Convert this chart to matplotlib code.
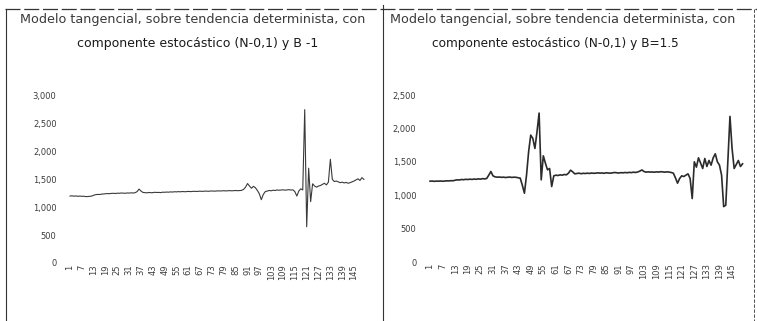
import numpy as np
import matplotlib
matplotlib.use("Agg")
import matplotlib.pyplot as plt
from matplotlib.lines import Line2D
from matplotlib.ticker import FuncFormatter

# Simulated price series, 150 periods each
left_values = [
    1200, 1205, 1198, 1202, 1196, 1200, 1195, 1198,
    1190, 1192, 1195, 1200,
    1215, 1225, 1230, 1228, 1235, 1238,
    1240, 1245, 1243, 1248, 1250, 1246, 1252, 1250, 1255, 1252, 1250, 1256, 1254, 1258, 1255, 1260,
    1280, 1325, 1290, 1265,
    1262, 1258, 1265, 1260, 1262, 1268, 1264, 1266, 1262, 1270, 1268, 1272,
    1270, 1275, 1272, 1278, 1275, 1280, 1276, 1282, 1278, 1280, 1284, 1280, 1283, 1286, 1282, 1285,
    1288, 1284, 1287, 1290, 1286, 1289, 1292, 1288, 1290, 1294, 1291, 1293, 1296, 1292, 1295, 1298,
    1294, 1297, 1300, 1296, 1299, 1302,
    1320, 1360, 1425, 1380, 1340, 1375, 1350, 1300, 1240, 1135, 1230, 1280,
    1290, 1300, 1295, 1305, 1300, 1310, 1305, 1308, 1312, 1306, 1310, 1315, 1308, 1312,
    1280, 1200, 1290, 1330, 1310,
    2750, 650, 1700, 1100, 1420, 1380,
    1360, 1380, 1390, 1410, 1430, 1400,
    1450, 1860, 1500, 1460,
    1470, 1455, 1440, 1450, 1435, 1445, 1430, 1440, 1455, 1470, 1490, 1510, 1480, 1530, 1500,
]
right_values = [
    1210, 1212, 1208, 1211, 1210, 1213, 1209, 1212, 1215, 1214, 1218, 1216,
    1225, 1230, 1228, 1235, 1232, 1238, 1235, 1240, 1236, 1242, 1238, 1245, 1240, 1248, 1244, 1250,
    1300, 1355, 1290,
    1275, 1270, 1272, 1268, 1270, 1265, 1268, 1272, 1266, 1270, 1268, 1262, 1255,
    1150, 1030, 1300, 1650, 1900, 1850, 1700, 1950, 2230, 1230, 1590, 1480, 1380, 1400, 1130, 1290,
    1300, 1295, 1305, 1300, 1310, 1305,
    1330, 1375, 1350, 1320,
    1325, 1330, 1322, 1328, 1325, 1330, 1326, 1332, 1328, 1330, 1335, 1330, 1333, 1328, 1336,
    1332, 1330, 1335, 1340, 1336, 1332, 1338, 1335, 1340, 1336, 1342, 1338, 1345, 1340, 1348,
    1360, 1378, 1355, 1345, 1350, 1346, 1348, 1344, 1350, 1346, 1352, 1348, 1345, 1350, 1346, 1340, 1330,
    1260, 1180, 1250, 1290, 1280, 1300, 1320,
    1250, 950, 1500, 1420, 1560, 1480, 1400, 1550, 1430, 1520, 1450, 1560, 1620, 1500, 1450,
    1300, 830, 850, 1500, 2180, 1700, 1400, 1460, 1520, 1430, 1470,
]
periods = list(range(1, 151))
period_ticks = list(range(1, 150, 6))

title_top = "Modelo tangencial, sobre tendencia determinista, con"
left_sub = "componente estocástico (N-0,1) y B -1"
right_sub = "componente estocástico (N-0,1) y B=1.5"

ink = "#2b2b2b"
fig = plt.figure(figsize=(7.57, 3.21), dpi=100, facecolor="white")


def thousands(v, pos):
    return "{:,.0f}".format(v)


def setup(ax, ymax, ystep):
    ax.set_xlim(0.5, 150.5)
    ax.set_ylim(0, ymax)
    ax.set_yticks(np.arange(0, ymax + 1, ystep))
    ax.yaxis.set_major_formatter(FuncFormatter(thousands))
    ax.set_xticks(period_ticks)
    ax.set_xticklabels([str(t) for t in period_ticks], rotation=90)
    for s in ax.spines.values():
        s.set_visible(False)
    ax.tick_params(axis="both", length=0, labelsize=6, colors="#3c3c3c")
    ax.tick_params(axis="y", pad=9)
    ax.tick_params(axis="x", pad=1)
    ax.patch.set_alpha(0)


# Left panel
axl = fig.add_axes([0.0912, 0.1807, 0.3908, 0.5212])
setup(axl, 3000, 500)
axl.plot(periods, left_values, color="#3a3a3a", linewidth=0.8)

# Right panel
axr = fig.add_axes([0.5667, 0.1838, 0.4156, 0.5202])
setup(axr, 2500, 500)
axr.plot(periods, right_values, color=ink, linewidth=1.2)

# Titles
fig.text(193 / 757, 1 - 20 / 321, title_top, ha="center", va="center",
         fontsize=9.2, color="#3a3a3a")
fig.text(198 / 757, 1 - 43 / 321, left_sub, ha="center", va="center",
         fontsize=9.0, color="#1a1a1a")
fig.text(563 / 757, 1 - 20 / 321, title_top, ha="center", va="center",
         fontsize=9.2, color="#3a3a3a")
fig.text(555 / 757, 1 - 43 / 321, right_sub, ha="center", va="center",
         fontsize=8.7, color="#1a1a1a")

# Frame lines around the two panels
def fline(x0, y0, x1, y1, **kw):
    fig.add_artist(Line2D([x0 / 757, x1 / 757], [1 - y0 / 321, 1 - y1 / 321],
                          color="#333333", linewidth=kw.pop("lw", 0.8), **kw))


fline(5, 9, 757, 9, lw=0.9, linestyle=(0, (12, 3)))
fline(6, 9, 6, 321)
fline(383, 5, 383, 321, lw=0.8)
fline(754, 9, 754, 321, lw=0.6, linestyle=(0, (4, 2)))

fig.savefig("out.png", dpi=100, facecolor="white")
